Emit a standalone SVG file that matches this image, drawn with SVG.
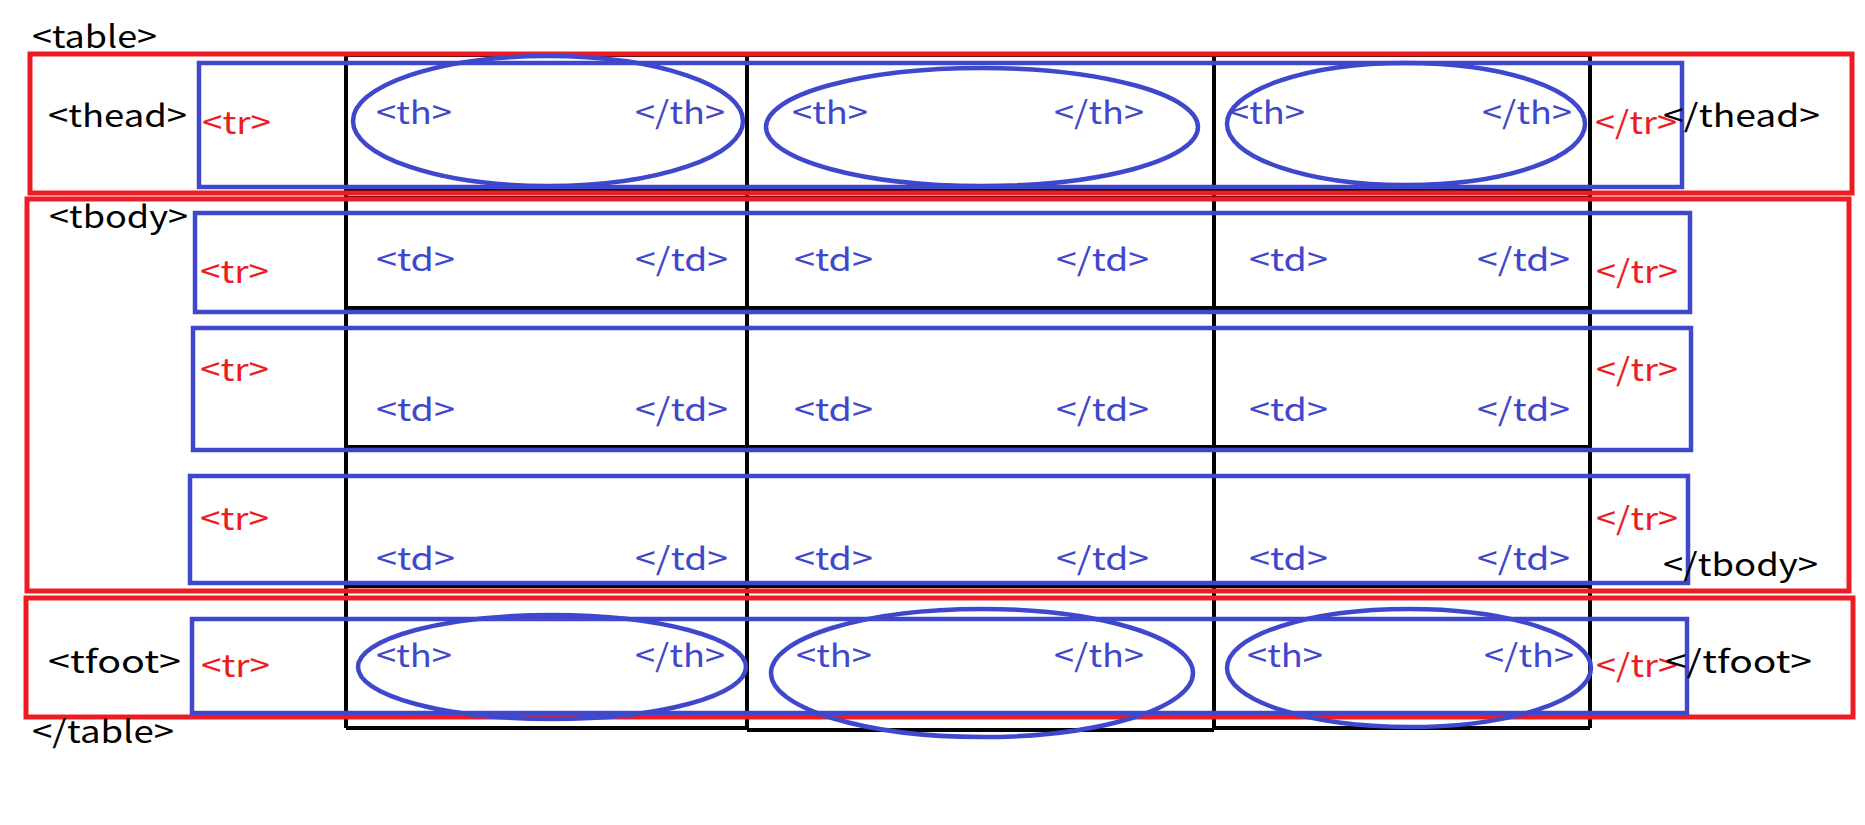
<svg xmlns="http://www.w3.org/2000/svg" width="1865" height="825" viewBox="0 0 1865 825">
<style>
text{font-family:"Noto Sans CJK KR","Noto Sans",sans-serif;font-size:31px}
.k{fill:#000}
.r{fill:#ED1C24}
.b{fill:#3F48CC}
.grid{stroke:#000;stroke-width:4;fill:none}
.sec{stroke:#ED1C24;stroke-width:5;fill:none}
.row{stroke:#3F48CC;stroke-width:4.5;fill:none}
.cell{stroke:#3F48CC;stroke-width:4.5;fill:none}
</style>
<rect width="1865" height="825" fill="#fff"/>
<g id="grid" class="grid">
<path d="M346 55V728M747 55V730M1214 55V728M1590 55V728"/>
<path d="M346 55H1590M346 190H1590M346 198H1590M346 308H1590M346 447H1590M346 586H1590M346 728H747M747 730H1214M1214 728H1590"/>
</g>
<g id="thead">
<rect class="sec" x="30" y="54" width="1822" height="139"/>
<text class="k" x="48" y="127" textLength="139" lengthAdjust="spacingAndGlyphs">&lt;thead&gt;</text>
</g>
<g id="tbody">
<rect class="sec" x="27" y="199" width="1822" height="392"/>
<text class="k" x="49" y="228" textLength="139" lengthAdjust="spacingAndGlyphs">&lt;tbody&gt;</text>
</g>
<g id="tfoot">
<rect class="sec" x="26" y="598" width="1827" height="119"/>
<text class="k" x="48" y="673" textLength="133" lengthAdjust="spacingAndGlyphs">&lt;tfoot&gt;</text>
</g>
<g id="thead-tr">
<rect class="row" x="199" y="63" width="1483" height="124"/>
<text class="r" x="202" y="134" textLength="69" lengthAdjust="spacingAndGlyphs">&lt;tr&gt;</text>
<text class="r" x="1595" y="134" textLength="82" lengthAdjust="spacingAndGlyphs">&lt;/tr&gt;</text>
</g>
<g id="thead-th1">
<ellipse class="cell" cx="548" cy="121" rx="195" ry="65"/>
<text class="b" x="376" y="124" textLength="76" lengthAdjust="spacingAndGlyphs">&lt;th&gt;</text>
<text class="b" x="635" y="124" textLength="90" lengthAdjust="spacingAndGlyphs">&lt;/th&gt;</text>
</g>
<g id="thead-th2">
<ellipse class="cell" cx="982" cy="127" rx="216" ry="59"/>
<text class="b" x="792" y="124" textLength="76" lengthAdjust="spacingAndGlyphs">&lt;th&gt;</text>
<text class="b" x="1054" y="124" textLength="90" lengthAdjust="spacingAndGlyphs">&lt;/th&gt;</text>
</g>
<g id="thead-th3">
<ellipse class="cell" cx="1406" cy="124" rx="179" ry="61"/>
<text class="b" x="1229" y="124" textLength="76" lengthAdjust="spacingAndGlyphs">&lt;th&gt;</text>
<text class="b" x="1482" y="124" textLength="90" lengthAdjust="spacingAndGlyphs">&lt;/th&gt;</text>
</g>
<text class="k" x="1663" y="127" textLength="157" lengthAdjust="spacingAndGlyphs">&lt;/thead&gt;</text>
<g id="tbody-tr1">
<rect class="row" x="195" y="213" width="1495" height="99"/>
<text class="r" x="200" y="283" textLength="69" lengthAdjust="spacingAndGlyphs">&lt;tr&gt;</text>
<text class="b" x="376" y="271" textLength="79" lengthAdjust="spacingAndGlyphs">&lt;td&gt;</text>
<text class="b" x="635" y="271" textLength="93" lengthAdjust="spacingAndGlyphs">&lt;/td&gt;</text>
<text class="b" x="794" y="271" textLength="79" lengthAdjust="spacingAndGlyphs">&lt;td&gt;</text>
<text class="b" x="1056" y="271" textLength="93" lengthAdjust="spacingAndGlyphs">&lt;/td&gt;</text>
<text class="b" x="1249" y="271" textLength="79" lengthAdjust="spacingAndGlyphs">&lt;td&gt;</text>
<text class="b" x="1477" y="271" textLength="93" lengthAdjust="spacingAndGlyphs">&lt;/td&gt;</text>
<text class="r" x="1596" y="283" textLength="82" lengthAdjust="spacingAndGlyphs">&lt;/tr&gt;</text>
</g>
<g id="tbody-tr2">
<rect class="row" x="193" y="328" width="1498" height="122"/>
<text class="r" x="200" y="381" textLength="69" lengthAdjust="spacingAndGlyphs">&lt;tr&gt;</text>
<text class="b" x="376" y="421" textLength="79" lengthAdjust="spacingAndGlyphs">&lt;td&gt;</text>
<text class="b" x="635" y="421" textLength="93" lengthAdjust="spacingAndGlyphs">&lt;/td&gt;</text>
<text class="b" x="794" y="421" textLength="79" lengthAdjust="spacingAndGlyphs">&lt;td&gt;</text>
<text class="b" x="1056" y="421" textLength="93" lengthAdjust="spacingAndGlyphs">&lt;/td&gt;</text>
<text class="b" x="1249" y="421" textLength="79" lengthAdjust="spacingAndGlyphs">&lt;td&gt;</text>
<text class="b" x="1477" y="421" textLength="93" lengthAdjust="spacingAndGlyphs">&lt;/td&gt;</text>
<text class="r" x="1596" y="381" textLength="82" lengthAdjust="spacingAndGlyphs">&lt;/tr&gt;</text>
</g>
<g id="tbody-tr3">
<rect class="row" x="190" y="476" width="1498" height="107"/>
<text class="r" x="200" y="530" textLength="69" lengthAdjust="spacingAndGlyphs">&lt;tr&gt;</text>
<text class="b" x="376" y="570" textLength="79" lengthAdjust="spacingAndGlyphs">&lt;td&gt;</text>
<text class="b" x="635" y="570" textLength="93" lengthAdjust="spacingAndGlyphs">&lt;/td&gt;</text>
<text class="b" x="794" y="570" textLength="79" lengthAdjust="spacingAndGlyphs">&lt;td&gt;</text>
<text class="b" x="1056" y="570" textLength="93" lengthAdjust="spacingAndGlyphs">&lt;/td&gt;</text>
<text class="b" x="1249" y="570" textLength="79" lengthAdjust="spacingAndGlyphs">&lt;td&gt;</text>
<text class="b" x="1477" y="570" textLength="93" lengthAdjust="spacingAndGlyphs">&lt;/td&gt;</text>
<text class="r" x="1596" y="530" textLength="82" lengthAdjust="spacingAndGlyphs">&lt;/tr&gt;</text>
</g>
<text class="k" x="1663" y="576" textLength="155" lengthAdjust="spacingAndGlyphs">&lt;/tbody&gt;</text>
<g id="tfoot-tr">
<rect class="row" x="192" y="619" width="1495" height="94"/>
<text class="r" x="201" y="677" textLength="69" lengthAdjust="spacingAndGlyphs">&lt;tr&gt;</text>
<text class="r" x="1596" y="677" textLength="82" lengthAdjust="spacingAndGlyphs">&lt;/tr&gt;</text>
</g>
<g id="tfoot-th1">
<ellipse class="cell" cx="552" cy="667" rx="194" ry="52"/>
<text class="b" x="376" y="667" textLength="76" lengthAdjust="spacingAndGlyphs">&lt;th&gt;</text>
<text class="b" x="635" y="667" textLength="90" lengthAdjust="spacingAndGlyphs">&lt;/th&gt;</text>
</g>
<g id="tfoot-th2">
<ellipse class="cell" cx="982" cy="673" rx="211" ry="64"/>
<text class="b" x="796" y="667" textLength="76" lengthAdjust="spacingAndGlyphs">&lt;th&gt;</text>
<text class="b" x="1054" y="667" textLength="90" lengthAdjust="spacingAndGlyphs">&lt;/th&gt;</text>
</g>
<g id="tfoot-th3">
<ellipse class="cell" cx="1409" cy="668" rx="182" ry="59"/>
<text class="b" x="1247" y="667" textLength="76" lengthAdjust="spacingAndGlyphs">&lt;th&gt;</text>
<text class="b" x="1484" y="667" textLength="90" lengthAdjust="spacingAndGlyphs">&lt;/th&gt;</text>
</g>
<text class="k" x="1665" y="673" textLength="147" lengthAdjust="spacingAndGlyphs">&lt;/tfoot&gt;</text>
<g id="table">
<text class="k" x="32" y="48" textLength="125" lengthAdjust="spacingAndGlyphs">&lt;table&gt;</text>
<text class="k" x="32" y="743" textLength="142" lengthAdjust="spacingAndGlyphs">&lt;/table&gt;</text>
</g>
</svg>
